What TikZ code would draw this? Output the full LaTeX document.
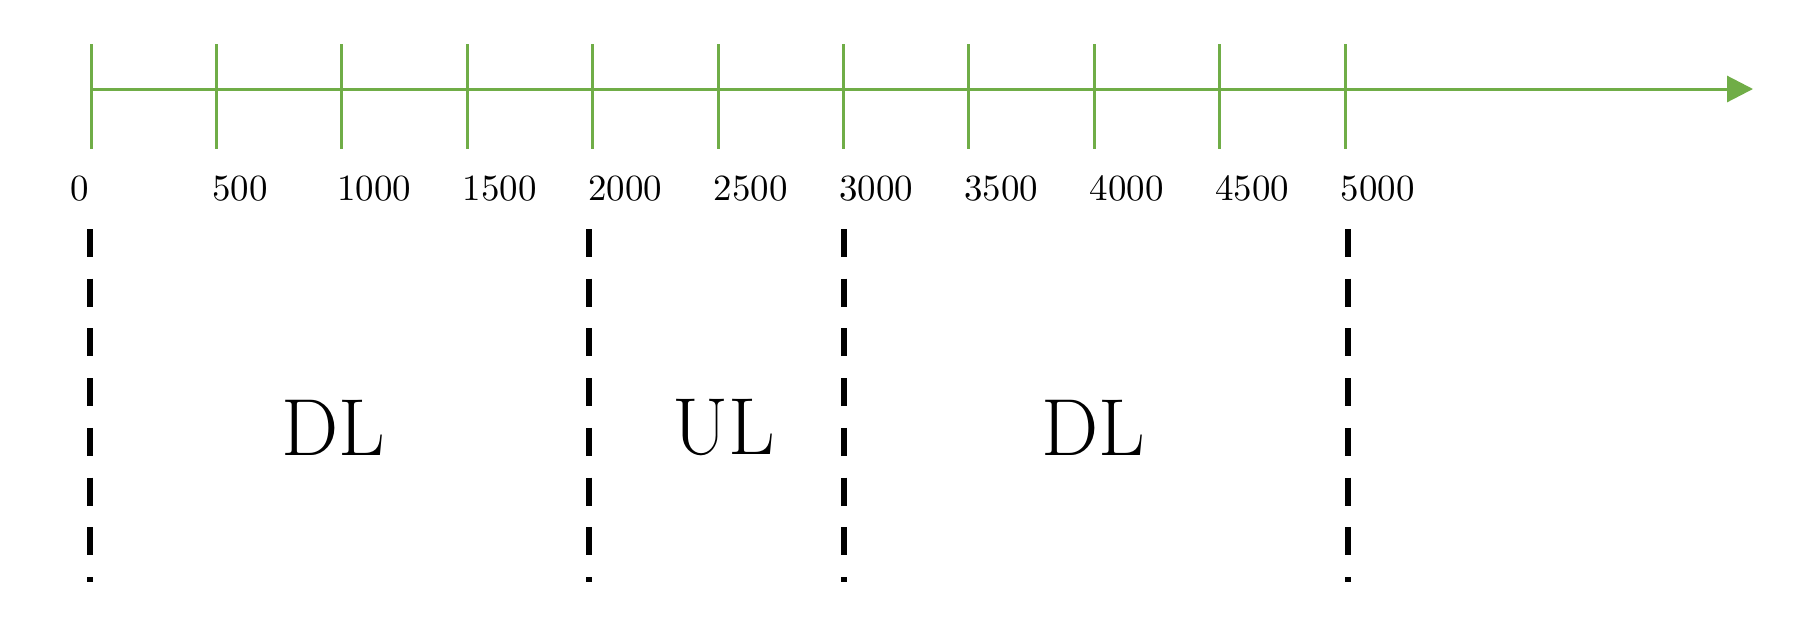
\documentclass[tikz,border=0pt]{standalone}
\usepackage{tikz}
\usetikzlibrary{arrows.meta}
\definecolor{axisgreen}{RGB}{112,173,71}
\tikzset{tick line/.style={draw=axisgreen,line width=0.03cm},
	tick label/.style={inner sep=0pt,font=\fontsize{10.5}{12}\selectfont},
	band line/.style={draw=black,line width=0.065cm,dash pattern=on 0.28cm off 0.217cm},
	band label/.style={inner sep=0pt,font=\fontsize{23}{28}\selectfont},
}

\begin{document}
\begin{tikzpicture}[x=0.01cm,y=-0.01cm,>={Triangle[length=0.26cm,width=0.26cm]}]
		\useasboundingbox (0,0) rectangle (1801,636);
		
		% axis
		\coordinate (o) at (91,89);
		\coordinate (end) at (1753,89);
		\draw[tick line,->] (o) -- (end);
		
		\foreach \i in {0,...,10}{
			\pgfmathsetmacro{\tx}{91+125.4*\i}
			\coordinate (t\i a) at (\tx,44);
			\coordinate (t\i b) at (\tx,149);
			\draw[tick line] (t\i a) -- (t\i b);
		}
		
		\node[tick label,anchor=east] (l0) at (90,188.5) {0};
		\foreach \i in {1,...,10}{
			\pgfmathsetmacro{\tx}{91+125.4*\i}
			\pgfmathtruncatemacro{\val}{500*\i}
			\node[tick label,anchor=west] (l\i) at (\tx-5,188.5) {\val};
		}
		
		% bands
		\foreach \n/\x in {a/90,b/589,c/844,d/1348}{
			\coordinate (\n top) at (\x,229);
			\coordinate (\n bot) at (\x,582);
			\draw[band line] (\n top) -- (\n bot);
		}
		
		\node[band label] (dl1) at (333,427.5) {DL};
		\node[band label] (ul) at (724,427.5) {UL};
		\node[band label] (dl2) at (1093,427.5) {DL};
		\end{tikzpicture}
\end{document}
